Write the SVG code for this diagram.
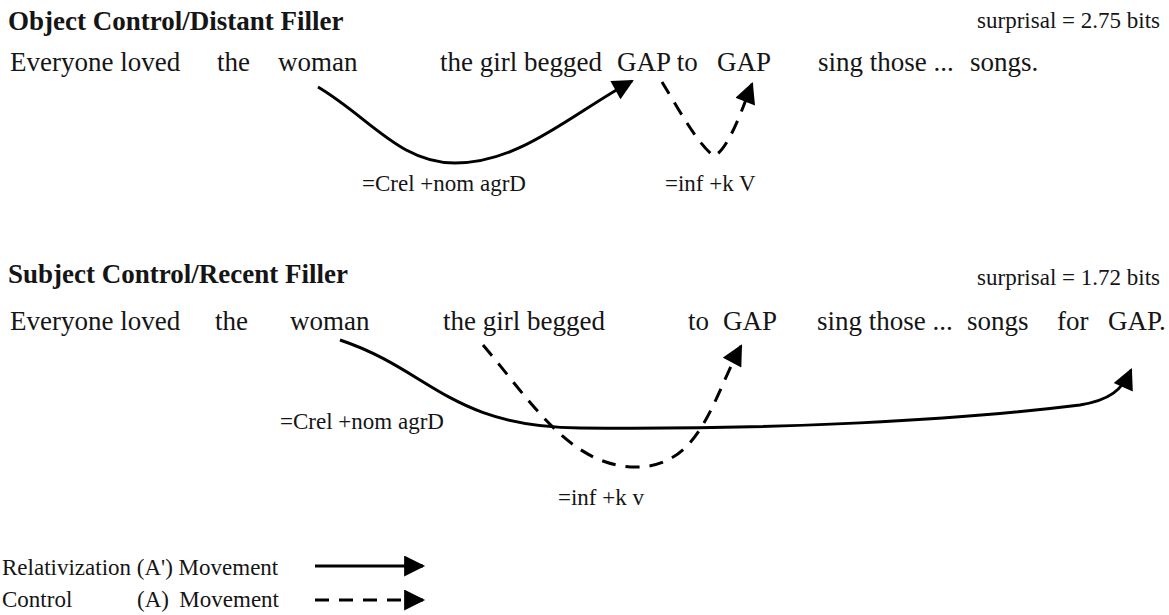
<svg xmlns="http://www.w3.org/2000/svg" width="1169" height="615" viewBox="0 0 1169 615">
  <style>
    text { font-family: "Liberation Serif", "Times New Roman", serif; fill: #151515; }
    .title { font-size: 27px; font-weight: bold; }
    .sent { font-size: 27px; }
    .bits { font-size: 23px; text-anchor: end; }
    .feat { font-size: 23px; }
    .leg { font-size: 23px; }
    .solid { fill: none; stroke: #000; stroke-width: 3; }
    .dash { fill: none; stroke: #000; stroke-width: 3; stroke-dasharray: 14 10; }
  </style>
  <defs>
    <marker id="head" viewBox="0 0 10 10" refX="9" refY="5" markerWidth="7.5" markerHeight="7" markerUnits="strokeWidth" orient="auto">
      <path d="M0,0 L10,5 L0,10 z" fill="#000"/>
    </marker>
  </defs>

  <rect width="1169" height="615" fill="#fff"/>

  <!-- Object control panel -->
  <g id="object-control">
    <text class="title" x="8" y="30">Object Control/Distant Filler</text>
    <text class="bits" x="1160" y="28">surprisal = 2.75 bits</text>
    <text class="sent" y="71"><tspan x="10">Everyone loved</tspan><tspan x="217">the</tspan><tspan x="278">woman</tspan><tspan x="440">the girl begged</tspan><tspan x="617">GAP to</tspan><tspan x="717">GAP</tspan><tspan x="818">sing those ...</tspan><tspan x="970">songs.</tspan></text>
    <text class="feat" x="362" y="191">=Crel +nom agrD</text>
    <text class="feat" x="665" y="191">=inf +k V</text>
  </g>

  <!-- Subject control panel -->
  <g id="subject-control">
    <text class="title" x="8" y="283">Subject Control/Recent Filler</text>
    <text class="bits" x="1160" y="285">surprisal = 1.72 bits</text>
    <text class="sent" y="330"><tspan x="10">Everyone loved</tspan><tspan x="215">the</tspan><tspan x="290">woman</tspan><tspan x="443">the girl begged</tspan><tspan x="688">to</tspan><tspan x="723">GAP</tspan><tspan x="817">sing those ...</tspan><tspan x="967">songs</tspan><tspan x="1057">for</tspan><tspan x="1108">GAP.</tspan></text>
    <text class="feat" x="280" y="429">=Crel +nom agrD</text>
    <text class="feat" x="558" y="505">=inf +k v</text>
  </g>

  <!-- Legend -->
  <g id="legend">
    <text class="leg" x="2" y="575">Relativization (A') Movement</text>
    <text class="leg" x="2" y="607">Control</text>
    <text class="leg" x="137" y="607">(A)</text>
    <text class="leg" x="279" y="607" text-anchor="end">Movement</text>
    <path class="solid" d="M315,566 L423,566" marker-end="url(#head)"/>
    <path class="dash" d="M315,600 L423,600" marker-end="url(#head)"/>
  </g>

  <!-- Movement arrows -->
  <g id="connectors">
    <path class="solid" d="M318,87 C370,118 400,163 455,163 C520,163 570,115 632,81" marker-end="url(#head)"/>
    <path class="dash" d="M662,82 C678,108 698,145 714,156 C728,150 742,110 752,84" marker-end="url(#head)"/>
    <path class="solid" d="M340,340 C430,370 450,427 580,428 C780,430 960,420 1080,405 C1110,400 1122,390 1131,370" marker-end="url(#head)"/>
    <path class="dash" d="M483,345 C530,400 570,467 636,467 C700,467 712,400 741,346" marker-end="url(#head)"/>
  </g>
</svg>
